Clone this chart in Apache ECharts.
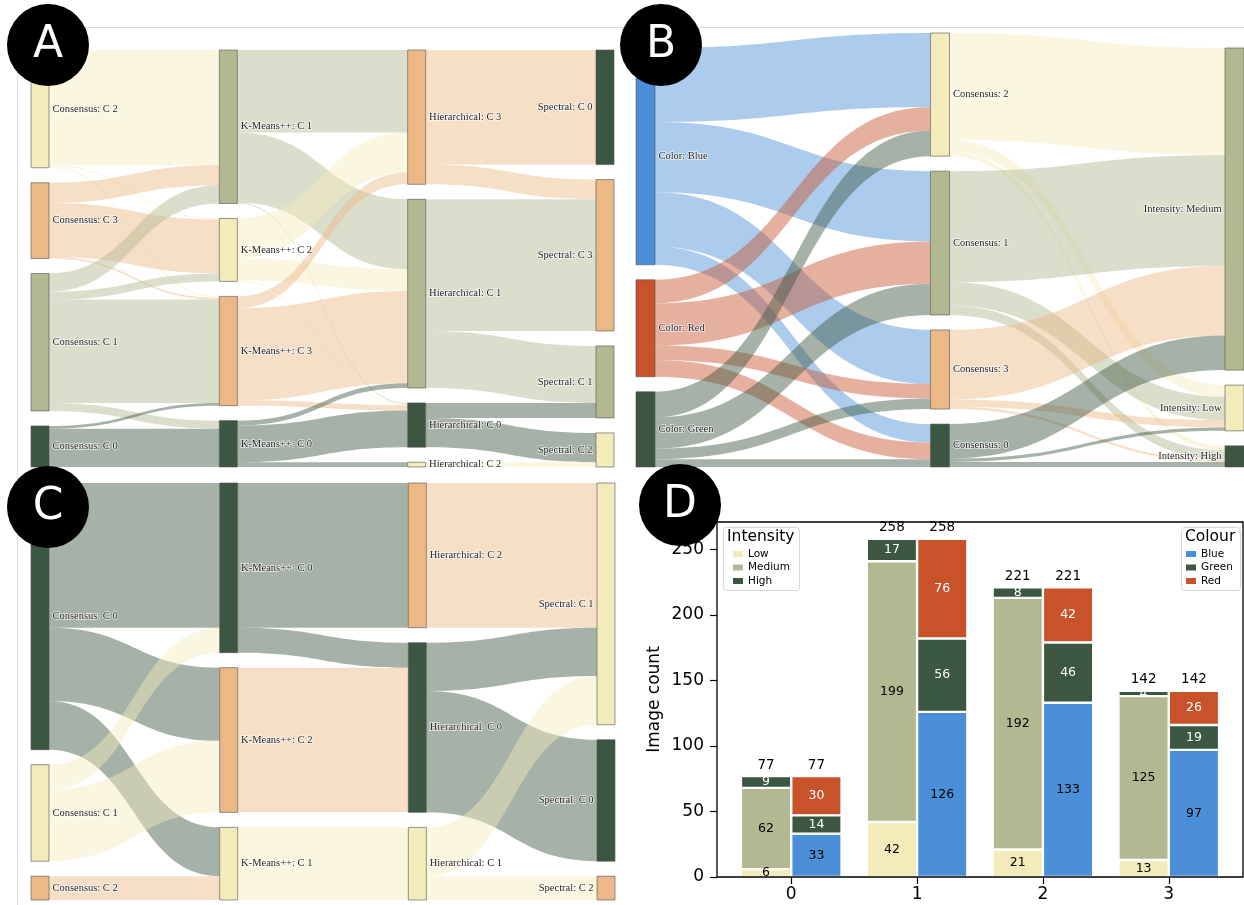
<!DOCTYPE html>
<html>
<head>
<meta charset="utf-8">
<script src="https://cdn.jsdelivr.net/npm/echarts@6/dist/echarts.min.js"></script>
<style>
  html, body { margin: 0; padding: 0; background: #fff; }
  #chart { width: 1244px; height: 905px; }
</style>
</head>
<body>
<div id="chart"></div>
<script>
// ---------------------------------------------------------------------------
// Data
// ---------------------------------------------------------------------------

// Panel D: image counts per consensus cluster
const clusterIds = ['0', '1', '2', '3'];
const intensityLow = [6, 42, 21, 13];
const intensityMedium = [62, 199, 192, 125];
const intensityHigh = [9, 17, 8, 4];
const colourBlue = [33, 126, 133, 97];
const colourGreen = [14, 56, 46, 19];
const colourRed = [30, 76, 42, 26];
const countTicks = [0, 50, 100, 150, 200, 250];

// Panel A: four-cluster solutions, column order top to bottom
const consensusA = ['C 2', 'C 3', 'C 1', 'C 0'];
const kmeansA = ['C 1', 'C 2', 'C 3', 'C 0'];
const hierarchicalA = ['C 3', 'C 1', 'C 0', 'C 2'];
const spectralA = ['C 0', 'C 3', 'C 1', 'C 2'];
const consensusToKmeansA = [
  ['C 2', 'C 1', 216], ['C 2', 'C 2', 2], ['C 2', 'C 3', 3],
  ['C 3', 'C 1', 38], ['C 3', 'C 2', 101], ['C 3', 'C 3', 3],
  ['C 1', 'C 1', 34], ['C 1', 'C 2', 15], ['C 1', 'C 3', 194], ['C 1', 'C 0', 15],
  ['C 0', 'C 3', 5], ['C 0', 'C 0', 72]
];
const kmeansToHierarchicalA = [
  ['C 1', 'C 3', 155], ['C 1', 'C 1', 131], ['C 1', 'C 0', 2],
  ['C 2', 'C 3', 75], ['C 2', 'C 1', 41], ['C 2', 'C 0', 2],
  ['C 3', 'C 3', 22], ['C 3', 'C 1', 173], ['C 3', 'C 0', 10],
  ['C 0', 'C 1', 9], ['C 0', 'C 0', 69], ['C 0', 'C 2', 9]
];
const hierarchicalToSpectralA = [
  ['C 3', 'C 0', 215], ['C 3', 'C 3', 37],
  ['C 1', 'C 3', 247], ['C 1', 'C 1', 107],
  ['C 0', 'C 1', 28], ['C 0', 'C 2', 55],
  ['C 2', 'C 2', 9]
];

// Panel B: colour -> consensus cluster -> intensity (counts from panel D)
const colourNamesB = ['Blue', 'Red', 'Green'];
const consensusB = ['2', '1', '3', '0'];
const intensityNamesB = ['Medium', 'Low', 'High'];

// Panel C: three-cluster solutions
const consensusC = ['C 0', 'C 1', 'C 2'];
const kmeansC = ['C 0', 'C 2', 'C 1'];
const hierarchicalC = ['C 2', 'C 0', 'C 1'];
const spectralC = ['C 1', 'C 0', 'C 2'];
const consensusToKmeansC = [
  ['C 0', 'C 0', 261], ['C 0', 'C 2', 132], ['C 0', 'C 1', 88],
  ['C 1', 'C 0', 45], ['C 1', 'C 2', 129],
  ['C 2', 'C 1', 43]
];
const kmeansToHierarchicalC = [
  ['C 0', 'C 2', 261], ['C 0', 'C 0', 45],
  ['C 2', 'C 0', 261],
  ['C 1', 'C 1', 131]
];
const hierarchicalToSpectralC = [
  ['C 2', 'C 1', 261],
  ['C 0', 'C 1', 87], ['C 0', 'C 0', 219],
  ['C 1', 'C 1', 88], ['C 1', 'C 2', 43]
];

// ---------------------------------------------------------------------------
// Palette
// ---------------------------------------------------------------------------
const YELLOW = '#f4ebba';
const OLIVE = '#b2b88f';
const DARK = '#3c5741';
const ORANGE = '#ebb886';
const BLUE = '#4a8fd8';
const RED = '#c8532b';

const fourClusterColours = { 'C 0': DARK, 'C 1': OLIVE, 'C 2': YELLOW, 'C 3': ORANGE };
const threeClusterColours = { 'C 0': DARK, 'C 1': YELLOW, 'C 2': ORANGE };
const consensusColoursB = { '0': DARK, '1': OLIVE, '2': YELLOW, '3': ORANGE };
const colourColoursB = { Blue: BLUE, Red: RED, Green: DARK };
const intensityColoursB = { Low: YELLOW, Medium: OLIVE, High: DARK };

// ---------------------------------------------------------------------------
// Sankey helpers
// ---------------------------------------------------------------------------
function stageNodes(prefix, ids, colours, depth, labelLeft) {
  return ids.map(function (id) {
    const node = { name: prefix + ': ' + id, depth: depth, itemStyle: { color: colours[id] } };
    if (labelLeft) node.label = { position: 'left' };
    return node;
  });
}

// zero-size node that keeps a gap above a short column
function padNode(name, depth) {
  return {
    name: name, value: 0, depth: depth,
    itemStyle: { opacity: 0, borderWidth: 0 },
    label: { show: false }
  };
}

function stageLinks(fromPrefix, toPrefix, flows) {
  return flows.map(function (f) {
    return { source: fromPrefix + ': ' + f[0], target: toPrefix + ': ' + f[1], value: f[2] };
  });
}

function sankeySeries(box, nodes, links) {
  return {
    type: 'sankey',
    left: box.left, top: box.top, width: box.width, height: box.height,
    nodeWidth: box.nodeWidth,
    nodeGap: 15,
    layoutIterations: 0,
    draggable: false,
    silent: true,
    data: nodes,
    links: links,
    itemStyle: { borderColor: 'rgba(80,80,80,0.75)', borderWidth: 0.8 },
    lineStyle: { color: 'source', opacity: 0.46, curveness: 0.5 },
    label: {
      position: 'right', distance: 3,
      fontFamily: 'Liberation Serif', fontSize: 10.5, color: '#262626',
      textBorderColor: 'rgba(255,255,255,0.75)', textBorderWidth: 1.5
    }
  };
}

// Panel A
const nodesA = [].concat(
  stageNodes('Consensus', consensusA, fourClusterColours, 0),
  stageNodes('K-Means++', kmeansA, fourClusterColours, 1),
  stageNodes('Hierarchical', hierarchicalA, fourClusterColours, 2),
  stageNodes('Spectral', spectralA, fourClusterColours, 3, true)
);
const linksA = [].concat(
  stageLinks('Consensus', 'K-Means++', consensusToKmeansA),
  stageLinks('K-Means++', 'Hierarchical', kmeansToHierarchicalA),
  stageLinks('Hierarchical', 'Spectral', hierarchicalToSpectralA)
);

// Panel C
const nodesC = [].concat(
  stageNodes('Consensus', consensusC, threeClusterColours, 0),
  stageNodes('K-Means++', kmeansC, threeClusterColours, 1),
  stageNodes('Hierarchical', hierarchicalC, threeClusterColours, 2),
  stageNodes('Spectral', spectralC, threeClusterColours, 3, true)
);
const linksC = [].concat(
  stageLinks('Consensus', 'K-Means++', consensusToKmeansC),
  stageLinks('K-Means++', 'Hierarchical', kmeansToHierarchicalC),
  stageLinks('Hierarchical', 'Spectral', hierarchicalToSpectralC)
);

// Panel B: flows derived from the per-cluster counts
const colourCounts = { Blue: colourBlue, Red: colourRed, Green: colourGreen };
const intensityCounts = { Low: intensityLow, Medium: intensityMedium, High: intensityHigh };
const colourToConsensusB = [];
colourNamesB.forEach(function (c) {
  consensusB.forEach(function (k) {
    colourToConsensusB.push([c, k, colourCounts[c][clusterIds.indexOf(k)]]);
  });
});
const consensusToIntensityB = [];
consensusB.forEach(function (k) {
  intensityNamesB.forEach(function (lvl) {
    consensusToIntensityB.push([k, lvl, intensityCounts[lvl][clusterIds.indexOf(k)]]);
  });
});
const nodesB = [].concat(
  [padNode('pad-colour', 0)],
  stageNodes('Color', colourNamesB, colourColoursB, 0),
  stageNodes('Consensus', consensusB, consensusColoursB, 1),
  [padNode('pad-intensity', 2)],
  stageNodes('Intensity', intensityNamesB, intensityColoursB, 2, true)
);
const linksB = [].concat(
  stageLinks('Color', 'Consensus', colourToConsensusB),
  stageLinks('Consensus', 'Intensity', consensusToIntensityB)
);

// ---------------------------------------------------------------------------
// Panel D layout (matplotlib-like axes box)
// ---------------------------------------------------------------------------
const AX_LEFT = 717, AX_RIGHT = 1243, AX_TOP = 522, AX_BOTTOM = 877;
const X_MIN = -0.59, X_MAX = 3.59;            // data range shown on the x axis
const UNIT = (AX_RIGHT - AX_LEFT) / (X_MAX - X_MIN);
const GRID_LEFT = AX_LEFT + (-0.5 - X_MIN) * UNIT;
const GRID_WIDTH = clusterIds.length * UNIT;
const BAR_WIDTH = 0.4 * UNIT;

const totals = clusterIds.map(function (_, i) {
  return intensityLow[i] + intensityMedium[i] + intensityHigh[i];
});
const colourTotals = clusterIds.map(function (_, i) {
  return colourBlue[i] + colourGreen[i] + colourRed[i];
});
const yTop = Math.max.apply(null, totals) * 1.05;

const UI_FONT = 'DejaVu Sans';

function stackBar(name, stack, values, colour, textColour) {
  return {
    type: 'bar', name: name, stack: stack,
    barWidth: BAR_WIDTH, barGap: '0%',
    data: values,
    itemStyle: { color: colour, borderColor: '#ffffff', borderWidth: 1.2 },
    label: {
      show: true, position: 'inside',
      fontFamily: UI_FONT, fontSize: 12.5, color: textColour
    },
    emphasis: { disabled: true }
  };
}

function totalBar(stack, sums) {
  return {
    type: 'bar', name: stack + '-total', stack: stack,
    barWidth: BAR_WIDTH, barGap: '0%',
    data: sums.map(function () { return 0; }),
    itemStyle: { color: 'rgba(0,0,0,0)' },
    label: {
      show: true, position: 'top', distance: 4,
      fontFamily: UI_FONT, fontSize: 13.5, color: '#000',
      formatter: function (p) { return String(sums[p.dataIndex]); }
    },
    emphasis: { disabled: true }
  };
}

// ---------------------------------------------------------------------------
// Decorations: panel badges, frame lines, legend boxes
// ---------------------------------------------------------------------------
function badge(letter, cx, cy) {
  return [
    { type: 'circle', z: 200, shape: { cx: cx, cy: cy, r: 41 }, style: { fill: '#000' }, silent: true },
    {
      type: 'text', z: 201, x: cx, y: cy + 1, silent: true,
      style: { text: letter, fill: '#fff', font: '44px "DejaVu Sans"', align: 'center', verticalAlign: 'middle' }
    }
  ];
}

const graphics = [].concat(
  [
    { type: 'line', z: 1, silent: true, shape: { x1: 17.5, y1: 27.5, x2: 1244, y2: 27.5 }, style: { stroke: '#dcdcdc', lineWidth: 1 } },
    { type: 'line', z: 1, silent: true, shape: { x1: 17.5, y1: 27.5, x2: 17.5, y2: 905 }, style: { stroke: '#dcdcdc', lineWidth: 1 } },
    // axes box of panel D
    { type: 'rect', z: 50, silent: true, shape: { x: AX_LEFT, y: AX_TOP, width: AX_RIGHT - AX_LEFT, height: AX_BOTTOM - AX_TOP }, style: { fill: 'none', stroke: '#000', lineWidth: 1.3 } },
    // legend frames and titles
    { type: 'rect', z: 60, silent: true, shape: { x: 723.5, y: 527.5, width: 76, height: 63, r: 3 }, style: { fill: 'rgba(255,255,255,0.8)', stroke: '#d6d6d6', lineWidth: 1 } },
    { type: 'text', z: 61, silent: true, x: 727, y: 537, style: { text: 'Intensity', fill: '#000', font: '15.5px "DejaVu Sans"', align: 'left', verticalAlign: 'middle' } },
    { type: 'rect', z: 60, silent: true, shape: { x: 1181.5, y: 527.5, width: 59, height: 63, r: 3 }, style: { fill: 'rgba(255,255,255,0.8)', stroke: '#d6d6d6', lineWidth: 1 } },
    { type: 'text', z: 61, silent: true, x: 1185, y: 537, style: { text: 'Colour', fill: '#000', font: '15.5px "DejaVu Sans"', align: 'left', verticalAlign: 'middle' } }
  ],
  badge('A', 48, 45),
  badge('B', 661, 45),
  badge('C', 48, 507),
  badge('D', 680, 505)
);

function legendAt(names, left) {
  return {
    data: names, orient: 'vertical', left: left, top: 548,
    padding: 0,
    icon: 'rect', itemWidth: 10, itemHeight: 6, itemGap: 1.5,
    selectedMode: false, z: 62,
    itemStyle: { borderWidth: 0 },
    textStyle: { fontFamily: UI_FONT, fontSize: 10.5, color: '#000', lineHeight: 12 }
  };
}

// ---------------------------------------------------------------------------
// Chart
// ---------------------------------------------------------------------------
const chart = echarts.init(document.getElementById('chart'), null, { renderer: 'canvas' });

chart.setOption({
  animation: false,
  backgroundColor: '#ffffff',
  graphic: graphics,
  legend: [
    legendAt(['Low', 'Medium', 'High'], 733),
    legendAt(['Blue', 'Green', 'Red'], 1186)
  ],
  grid: {
    left: GRID_LEFT, top: AX_TOP,
    width: GRID_WIDTH, height: AX_BOTTOM - AX_TOP,
    containLabel: false
  },
  xAxis: {
    type: 'category', data: clusterIds,
    axisLine: { show: false },
    axisTick: { show: true, alignWithLabel: true, length: 7, lineStyle: { color: '#000', width: 1.2 } },
    axisLabel: { fontFamily: UI_FONT, fontSize: 17, color: '#000', margin: 9 },
    splitLine: { show: false }
  },
  yAxis: {
    type: 'value', min: 0, max: yTop,
    offset: GRID_LEFT - AX_LEFT,
    name: 'Image count', nameLocation: 'middle', nameRotate: 90, nameGap: 54,
    nameTextStyle: { fontFamily: UI_FONT, fontSize: 17, color: '#000' },
    axisLine: { show: false },
    axisTick: { show: true, length: 7, customValues: countTicks, lineStyle: { color: '#000', width: 1.2 } },
    axisLabel: { fontFamily: UI_FONT, fontSize: 17, color: '#000', margin: 13, customValues: countTicks },
    splitLine: { show: false }
  },
  series: [
    sankeySeries({ left: 31, top: 50, width: 583, height: 417, nodeWidth: 18 }, nodesA, linksA),
    sankeySeries({ left: 636, top: 33, width: 608, height: 434, nodeWidth: 19 }, nodesB, linksB),
    sankeySeries({ left: 31, top: 483, width: 584, height: 417, nodeWidth: 18 }, nodesC, linksC),
    stackBar('Low', 'intensity', intensityLow, YELLOW, '#000'),
    stackBar('Medium', 'intensity', intensityMedium, OLIVE, '#000'),
    stackBar('High', 'intensity', intensityHigh, DARK, '#fff'),
    totalBar('intensity', totals),
    stackBar('Blue', 'colour', colourBlue, BLUE, '#000'),
    stackBar('Green', 'colour', colourGreen, DARK, '#fff'),
    stackBar('Red', 'colour', colourRed, RED, '#fff'),
    totalBar('colour', colourTotals)
  ]
});
</script>
</body>
</html>
